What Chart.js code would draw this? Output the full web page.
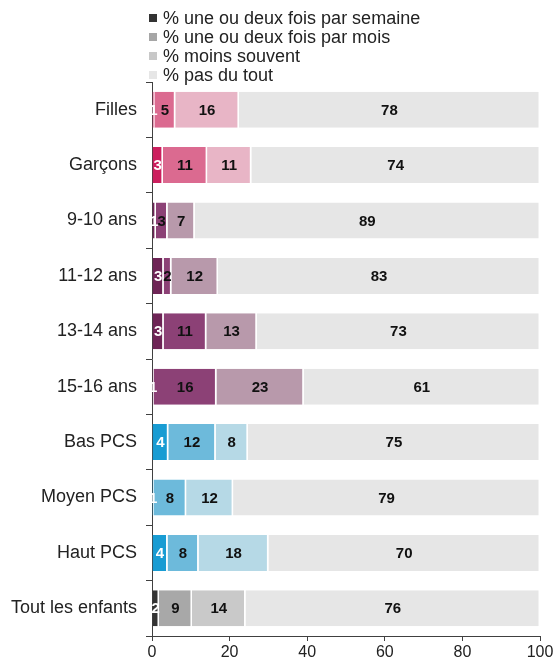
<!DOCTYPE html>
<html lang="fr">
<head>
<meta charset="utf-8">
<title>Fréquence</title>
<script src="https://cdn.jsdelivr.net/npm/chart.js@4.4.1/dist/chart.umd.min.js"></script>
<style>
  body { margin: 0; background: #fff; font-family: "Liberation Sans", Arial, sans-serif; }
  #wrap { position: relative; width: 556px; height: 662px; }
  #legende { position: absolute; left: 149px; top: 9px; font-size: 18px; color: #222; }
  #legende div { height: 19px; line-height: 19px; white-space: nowrap; }
  #legende span { display: inline-block; width: 8px; height: 8px; margin-right: 6px; vertical-align: 2px; }
</style>
</head>
<body>
<div id="wrap">
  <canvas id="myChart"></canvas>
  <div id="legende"></div>
</div>
<script>
let categories = ['Filles', 'Garçons', '9-10 ans', '11-12 ans', '13-14 ans', '15-16 ans', 'Bas PCS', 'Moyen PCS', 'Haut PCS', 'Tout les enfants']
let semaine = [0.6, 2.8, 1, 3, 3, 0.5, 4.2, 0.5, 4, 1.8]
let mois = [5.4, 11.4, 3, 2, 11, 16.1, 12.2, 8.3, 8, 8.5]
let moinsSouvent = [16.4, 11.4, 7, 12, 13, 22.5, 8.3, 12.1, 18, 13.8]
let pasDuTout = [77.6, 74.4, 89, 83, 73, 60.9, 75.3, 79.1, 70, 75.9]
let series = ['% une ou deux fois par semaine', '% une ou deux fois par mois', '% moins souvent', '% pas du tout']
let ticksX = [0, 20, 40, 60, 80, 100]

// couleurs : rose (sexe), violet (âge), bleu (PCS), gris (ensemble)
let rose = ['#cc1f5e', '#db6a90', '#e8b5c6']
let violet = ['#6e2456', '#8c4176', '#b899ab']
let bleu = ['#189cd3', '#6dbadb', '#b6d9e6']
let gris = ['#333333', '#a8a8a8', '#c9c9c9']
let fond = '#e6e6e6'
let groupes = [rose, rose, violet, violet, violet, violet, bleu, bleu, bleu, gris]
let legendeCouleurs = ['#333333', '#a6a6a6', '#c8c8c8', '#e6e6e6']

function couleurs(k) {
    return groupes.map(g => k < 3 ? g[k] : fond)
}

const police = '"Liberation Sans", Arial, sans-serif'

const etiquettes = {
    id: 'etiquettes',
    afterDatasetsDraw(chart) {
        const ctx = chart.ctx
        ctx.save()
        ctx.font = 'bold 15px ' + police
        ctx.textAlign = 'center'
        ctx.textBaseline = 'middle'
        chart.data.datasets.forEach((ds, i) => {
            chart.getDatasetMeta(i).data.forEach((bar, j) => {
                ctx.fillStyle = i === 0 ? '#ffffff' : '#111111'
                ctx.fillText(String(Math.round(ds.data[j])), (bar.x + bar.base) / 2, bar.y + 1)
            })
        })
        ctx.restore()
    }
}

const ctx = document.getElementById('myChart').getContext('2d')
let donnees = [semaine, mois, moinsSouvent, pasDuTout]
let myChart = new Chart(ctx, {
    type: 'bar',
    data: {
        labels: categories,
        datasets: donnees.map((d, k) => ({
            label: series[k],
            data: d,
            backgroundColor: couleurs(k),
            borderColor: '#ffffff',
            borderWidth: { right: 1.5, left: 0, top: 0, bottom: 0 },
            borderSkipped: false,
            barPercentage: 0.65,
            categoryPercentage: 1
        }))
    },
    options: {
        indexAxis: 'y',
        responsive: true,
        maintainAspectRatio: false,
        animation: false,
        layout: { padding: { top: 82, right: 16, left: 0, bottom: 0 } },
        plugins: {
            legend: { display: false },
            tooltip: { enabled: false }
        },
        scales: {
            x: {
                stacked: true,
                min: 0,
                max: 100,
                afterFit: s => { s.height = 26 },
                afterBuildTicks: s => { s.ticks = ticksX.map(v => ({ value: v })) },
                grid: { drawOnChartArea: false, drawTicks: true, tickLength: 5, color: '#404040' },
                border: { color: '#404040', width: 1 },
                ticks: { color: '#222', font: { family: police, size: 16 }, padding: 2 }
            },
            y: {
                stacked: true,
                afterFit: s => { s.width = 152 },
                grid: { drawOnChartArea: false, drawTicks: true, tickLength: 6, offset: true, color: '#404040' },
                border: { color: '#404040', width: 1 },
                ticks: { color: '#222', font: { family: police, size: 18 }, padding: 9 }
            }
        }
    },
    plugins: [etiquettes]
})

// légende verticale en haut
let legende = document.getElementById('legende')
series.forEach((s, k) => {
    let ligne = document.createElement('div')
    ligne.innerHTML = '<span style="background:' + legendeCouleurs[k] + '"></span>' + s
    legende.appendChild(ligne)
})
</script>
</body>
</html>
